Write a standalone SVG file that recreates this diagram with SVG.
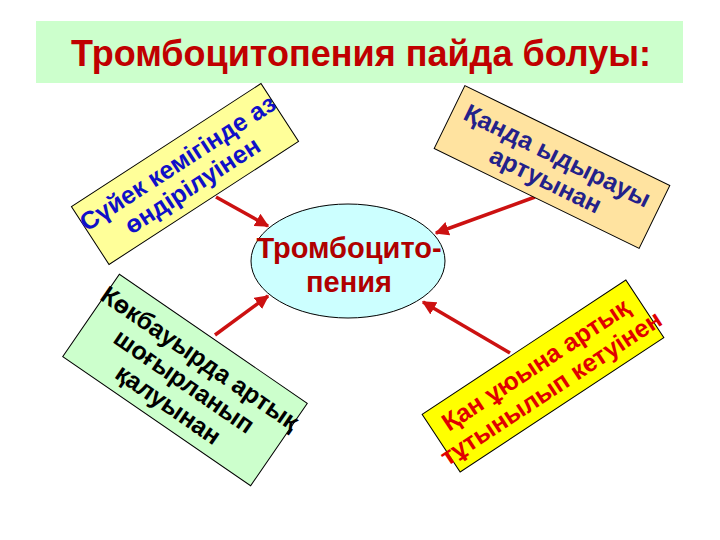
<svg xmlns="http://www.w3.org/2000/svg" width="720" height="540" viewBox="0 0 720 540">
<defs>
<style>
.t{font-family:"Liberation Sans",Arial,sans-serif;font-weight:bold;text-anchor:middle}
.box{stroke:#000;stroke-width:1}
.arr{stroke:#cc1111;stroke-width:3.5;fill:none;marker-end:url(#ah)}
</style>
<marker id="ah" viewBox="0 0 10 10" refX="9" refY="5" markerWidth="4" markerHeight="4" orient="auto" markerUnits="strokeWidth">
<path d="M0,0 L10,5 L0,10 Z" fill="#cc1111"/>
</marker>
</defs>
<rect width="720" height="540" fill="#ffffff"/>
<g id="title">
<rect x="36" y="21" width="647" height="62" fill="#ccffcc"/>
<text class="t" x="361" y="66" font-size="36" fill="#c00000">Тромбоцитопения пайда болуы:</text>
</g>
<g id="connectors">
<line class="arr" x1="216" y1="197" x2="268" y2="226"/>
<line class="arr" x1="535" y1="197" x2="436" y2="233"/>
<line class="arr" x1="215" y1="335" x2="268" y2="296"/>
<line class="arr" x1="510" y1="353" x2="423" y2="302"/>
</g>
<g id="center">
<ellipse cx="348" cy="261" rx="97" ry="57" fill="#ccffff" stroke="#000" stroke-width="1"/>
<text class="t" x="349" y="258" font-size="29" fill="#b00000">Тромбоцито-</text>
<text class="t" x="349" y="292" font-size="29" fill="#b00000">пения</text>
</g>
<g id="box1" transform="translate(185,174) rotate(-33)">
<rect class="box" x="-113" y="-34.5" width="226" height="69" fill="#ffff99"/>
<text class="t" x="0" y="-5" font-size="25" fill="#1010c8">Сүйек кемігінде аз</text>
<text class="t" x="0" y="22" font-size="25" fill="#1010c8">өндірілуінен</text>
</g>
<g id="box2" transform="translate(552,167) rotate(26)">
<rect class="box" x="-114" y="-35" width="228" height="70" fill="#ffe3a0"/>
<text class="t" x="0" y="-4" font-size="25" fill="#23218a">Қанда ыдырауы</text>
<text class="t" x="0" y="23" font-size="25" fill="#23218a">артуынан</text>
</g>
<g id="box3" transform="translate(185,380) rotate(34.5)">
<rect class="box" x="-114" y="-50" width="228" height="100" fill="#ccffcc"/>
<text class="t" x="0" y="-18" font-size="25" fill="#000000">Көкбауырда артық</text>
<text class="t" x="0" y="10" font-size="25" fill="#000000">шоғырланып</text>
<text class="t" x="0" y="38" font-size="25" fill="#000000">қалуынан</text>
</g>
<g id="box4" transform="translate(543,376) rotate(-33.4)">
<rect class="box" x="-122" y="-34.5" width="244" height="69" fill="#ffff00"/>
<text class="t" x="0" y="-5" font-size="25" fill="#e00000">Қан ұюына артық</text>
<text class="t" x="0" y="23" font-size="25" fill="#e00000">тұтынылып кетуінен</text>
</g>
</svg>
